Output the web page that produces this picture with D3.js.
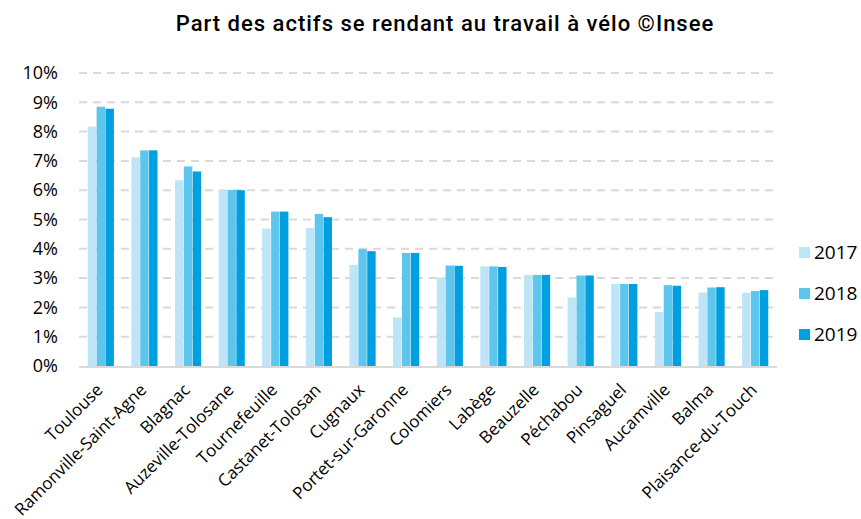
<!DOCTYPE html>
<html>
<head>
<meta charset="utf-8">
<script src="https://cdn.jsdelivr.net/npm/d3@7"></script>
<style>
  body { margin: 0; background: #fff; }
  svg { display: block; font-family: "Open Sans", sans-serif; }
</style>
</head>
<body>
<svg width="861" height="519"></svg>
<script>
// communes, in chart order
const communes = ["Toulouse", "Ramonville-Saint-Agne", "Blagnac", "Auzeville-Tolosane",
  "Tournefeuille", "Castanet-Tolosan", "Cugnaux", "Portet-sur-Garonne", "Colomiers",
  "Labège", "Beauzelle", "Péchabou", "Pinsaguel", "Aucamville", "Balma", "Plaisance-du-Touch"];

const years = ["2017", "2018", "2019"];

// share of commuters by bike, in %
const v2017 = [8.17, 7.12, 6.34, 6.01, 4.69, 4.71, 3.45, 1.66, 3.02, 3.40, 3.11, 2.34, 2.80, 1.84, 2.51, 2.50];
const v2018 = [8.85, 7.36, 6.81, 6.01, 5.27, 5.19, 3.99, 3.86, 3.43, 3.40, 3.11, 3.09, 2.80, 2.76, 2.68, 2.56];
const v2019 = [8.78, 7.36, 6.64, 6.00, 5.27, 5.08, 3.92, 3.86, 3.42, 3.38, 3.11, 3.09, 2.80, 2.74, 2.69, 2.59];

const yTicks = [0, 1, 2, 3, 4, 5, 6, 7, 8, 9, 10];
const colours = ["#bde4f7", "#5ec6ed", "#009fe0"];

const series = [v2017, v2018, v2019];

let svg = d3.select("svg");

const plotLeft = 79, plotRight = 777, plotTop = 73, plotBottom = 366;

let x = d3.scaleBand().domain(communes).range([plotLeft, plotRight]).paddingInner(0.38).paddingOuter(0.19);
let xInner = d3.scaleBand().domain(years).range([0, x.bandwidth()]).padding(0.05);
let y = d3.scaleLinear().domain([0, 10]).range([plotBottom, plotTop]);

// title
svg.append("text")
  .attr("x", 445)
  .attr("y", 31)
  .attr("text-anchor", "middle")
  .style("font-family", "Roboto, sans-serif")
  .style("font-size", "22px")
  .style("font-weight", 500)
  .style("letter-spacing", "1px")
  .attr("fill", "#000")
  .text("Part des actifs se rendant au travail à vélo ©Insee");

// gridlines
svg.append("g")
  .selectAll("line")
  .data(yTicks.filter((d) => d > 0))
  .enter()
  .append("line")
  .attr("x1", plotLeft)
  .attr("x2", plotRight)
  .attr("y1", (d) => y(d))
  .attr("y2", (d) => y(d))
  .attr("stroke", "#d9d9d9")
  .attr("stroke-width", 2)
  .attr("stroke-dasharray", "8,6");

// y axis labels
let yAxis = d3.axisLeft(y).tickValues(yTicks).tickSize(0).tickPadding(0).tickFormat((d) => d + "%");
let gy = svg.append("g").attr("transform", "translate(58,0)").call(yAxis);
gy.select(".domain").remove();
gy.selectAll("text")
  .style("font-family", "Open Sans, sans-serif")
  .style("font-size", "18px")
  .attr("fill", "#000");

// bars
let groups = svg.append("g")
  .selectAll("g")
  .data(communes)
  .enter()
  .append("g")
  .attr("transform", (d) => "translate(" + x(d) + ",0)");

groups.selectAll("rect")
  .data((d, i) => years.map((yr, j) => ({ year: yr, value: series[j][i], k: j })))
  .enter()
  .append("rect")
  .attr("x", (d) => xInner(d.year))
  .attr("width", xInner.bandwidth())
  .attr("y", (d) => y(d.value))
  .attr("height", (d) => plotBottom - y(d.value))
  .attr("fill", (d) => colours[d.k]);

// x axis
let xAxis = d3.axisBottom(x).tickSize(0).tickPadding(0);
let gx = svg.append("g").attr("transform", "translate(0," + plotBottom + ")").call(xAxis);
gx.select(".domain").attr("stroke", "#d9d9d9").attr("stroke-width", 2).attr("d", "M" + plotLeft + ",1H" + plotRight);
gx.selectAll("text")
  .attr("dy", null)
  .attr("y", 0)
  .attr("text-anchor", "end")
  .attr("transform", "translate(3,25) rotate(-45)")
  .style("font-family", "Open Sans, sans-serif")
  .style("font-size", "17px")
  .attr("fill", "#000");

// legend
let legend = svg.append("g")
  .selectAll("g")
  .data(years)
  .enter()
  .append("g")
  .attr("transform", (d, i) => "translate(799," + (247 + i * 41) + ")");

legend.append("rect")
  .attr("width", 11)
  .attr("height", 11)
  .attr("fill", (d, i) => colours[i]);

legend.append("text")
  .attr("x", 15)
  .attr("y", 12)
  .style("font-family", "Open Sans, sans-serif")
  .style("font-size", "19px")
  .attr("fill", "#000")
  .text((d) => d);
</script>
</body>
</html>
